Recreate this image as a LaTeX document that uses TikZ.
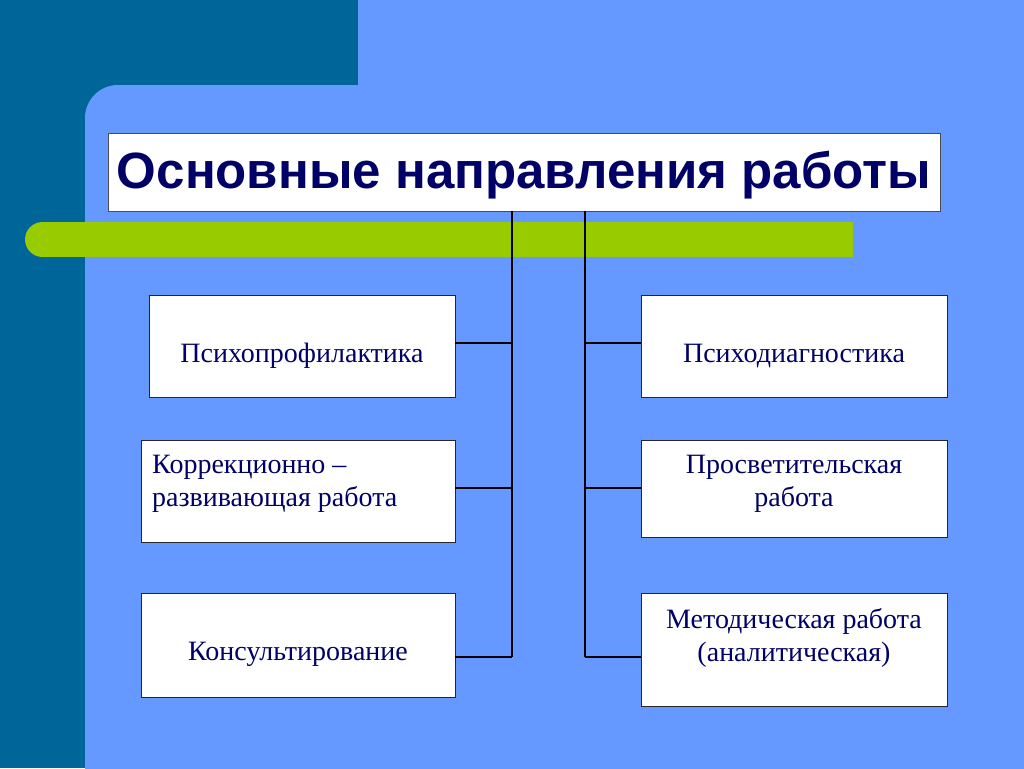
\documentclass[tikz,border=0pt]{standalone}
\usepackage{fontspec}
\setmainfont{Liberation Serif}
\newfontfamily\titlefont{Liberation Sans}
\definecolor{slidebg}{HTML}{6699FF}
\definecolor{sidebar}{HTML}{006699}
\definecolor{limebar}{HTML}{99CC00}
\definecolor{inknavy}{HTML}{000066}

\begin{document}
\begin{tikzpicture}[x=1pt, y=-1pt,
	box/.style={draw=black!85, fill=white, line width=0.9pt, inner sep=0pt},
	txt/.style={text=inknavy, font=\fontsize{28}{33}\selectfont, align=center, inner sep=0pt},
	link/.style={draw=black, line width=1.3pt}]
	\useasboundingbox (0,0) rectangle (1024,768);
	\clip (0,0) rectangle (1024,768);

	% background
	\fill[sidebar] (0,0) rectangle (1024,768);
	\fill[slidebg] (358,0) rectangle (1024,85);
	\fill[slidebg, rounded corners=33pt] (85,85) rectangle (1100,850);
	\fill[limebar] (42.5,222) rectangle (853,257);
	\fill[limebar] (42.5,239.5) circle (17.5);

	% title
	\node[box, draw=black!70, minimum width=832pt, minimum height=78pt] (title) at (524,172) {};
	\node[text=inknavy, font=\titlefont\bfseries\fontsize{51}{60}\selectfont, inner sep=0pt]
		at (524,175) {Основные направления работы};

	% boxes
	\node[box, minimum width=306pt, minimum height=102pt] (pprof) at (302,346) {};
	\node[box, minimum width=314pt, minimum height=102pt] (korr) at (298,491) {};
	\node[box, minimum width=314pt, minimum height=104pt] (kons) at (298,645) {};
	\node[box, minimum width=306pt, minimum height=102pt] (pdiag) at (794,346) {};
	\node[box, minimum width=306pt, minimum height=97pt] (prosv) at (794,488.5) {};
	\node[box, minimum width=306pt, minimum height=113pt] (metod) at (794,649.5) {};

	\node[txt] at (302,356) {Психопрофилактика};
	\node[txt, align=left, anchor=west] at (152,484) {Коррекционно –\\развивающая работа};
	\node[txt] at (298,654) {Консультирование};
	\node[txt] at (794,356) {Психодиагностика};
	\node[txt] at (794,484) {Просветительская\\работа};
	\node[txt] at (794,638) {Методическая работа\\(аналитическая)};

	% trunks
	\coordinate (l1) at (512,343);
	\coordinate (l2) at (512,488);
	\coordinate (l3) at (512,657);
	\coordinate (r1) at (585,343);
	\coordinate (r2) at (585,488);
	\coordinate (r3) at (585,657);

	\draw[link] (title.south -| l3) -- (l3);
	\draw[link] (title.south -| r3) -- (r3);
	\draw[link] (pprof.east |- l1) -- (l1);
	\draw[link] (korr.east |- l2) -- (l2);
	\draw[link] (kons.east |- l3) -- (l3);
	\draw[link] (pdiag.west |- r1) -- (r1);
	\draw[link] (prosv.west |- r2) -- (r2);
	\draw[link] (metod.west |- r3) -- (r3);
\end{tikzpicture}
\end{document}
